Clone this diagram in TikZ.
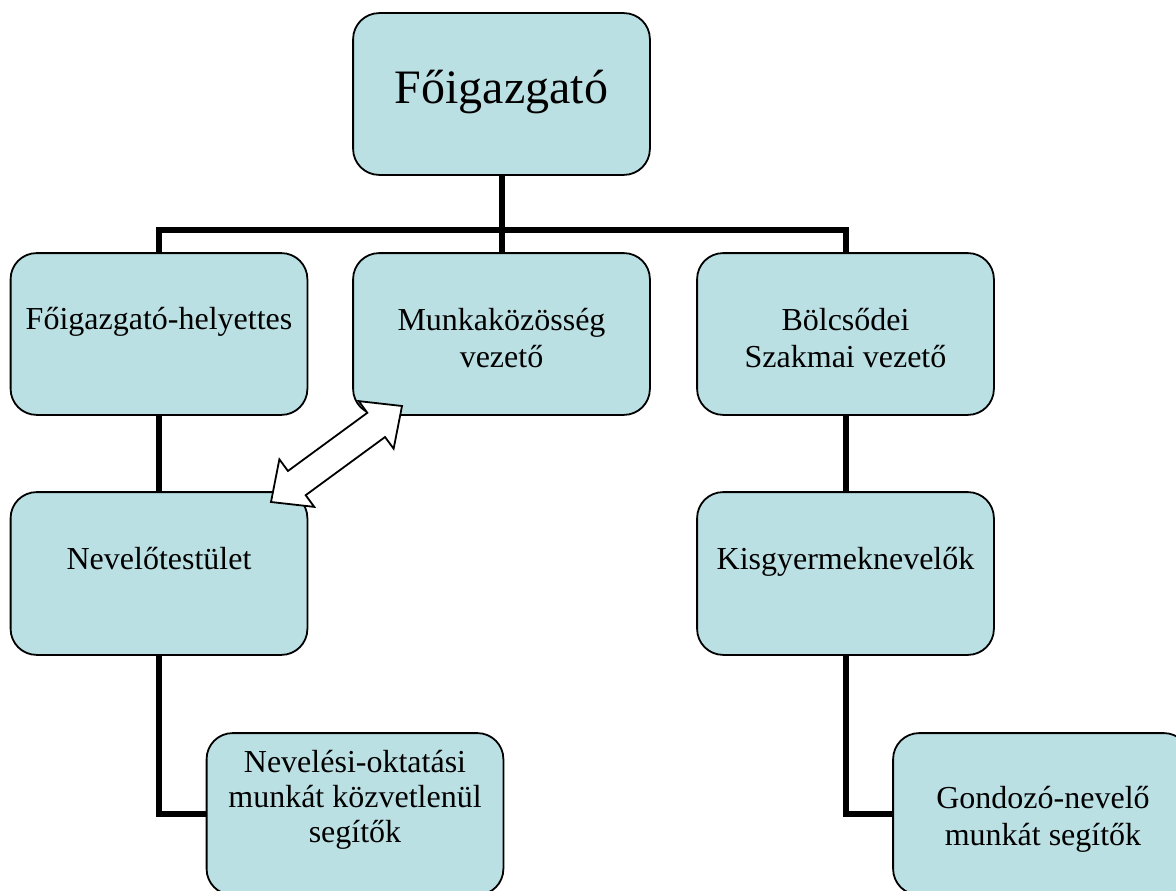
\documentclass[tikz,border=0pt]{standalone}
\usepackage{fontspec}
\setmainfont{Liberation Serif}
\usetikzlibrary{calc}
\definecolor{boxfill}{RGB}{187,224,227}
\begin{document}
\begin{tikzpicture}[x=1pt,y=-1pt,
  orgbox/.style={draw=black, line width=1.8pt, fill=boxfill, rounded corners=26pt,
    minimum width=295pt, minimum height=160pt, inner sep=0pt},
  conn/.style={draw=black, line width=6pt},
  lbl/.style={anchor=base, align=center, inner sep=0pt, font=\fontsize{32}{36.5}\selectfont},
  biglbl/.style={anchor=base, align=center, inner sep=0pt, font=\fontsize{48}{55}\selectfont},
  blockarrow/.style={draw=black, line width=1.8pt, fill=white, line join=miter}]
\useasboundingbox (0,0) rectangle (1176,891);
\fill[white] (0,0) rectangle (1176,891);

% boxes (geometry only, drawn after connectors)
\path (501.5,94) node[orgbox, draw=none, fill=none] (fo) {}
      (159,334) node[orgbox, draw=none, fill=none] (fh) {}
      (501.5,334) node[orgbox, draw=none, fill=none] (mk) {}
      (845.5,334) node[orgbox, draw=none, fill=none] (bv) {}
      (159,573.5) node[orgbox, draw=none, fill=none, minimum height=161pt] (nt) {}
      (845.5,573.5) node[orgbox, draw=none, fill=none, minimum height=161pt] (kn) {}
      (355,814) node[orgbox, draw=none, fill=none] (no) {}
      (1041.5,814) node[orgbox, draw=none, fill=none] (gn) {};

% connectors
\coordinate (bar) at (501.5,230);
\draw[conn] (fo.south) -- (bar);
\draw[conn] (fh.north) |- (bar) -| (bv.north);
\draw[conn] (bar) -- (mk.north);
\draw[conn] (fh.south) -- (nt.north);
\draw[conn] (bv.south) -- (kn.north);
\draw[conn] (nt.south) |- (no.west);
\draw[conn] (kn.south) |- (gn.west);

% visible boxes
\foreach \b in {fo,fh,mk,bv,nt,kn,no,gn}{
  \draw[orgbox] (\b.south west) rectangle (\b.north east);
}

% labels (anchor=base is the baseline of the last line)
\node[biglbl] (tfo) at (501.5,103) {Főigazgató};
\node[lbl] (tfh) at (159,329) {Főigazgató-helyettes};
\node[lbl] (tmk) at (501.5,367) {Munkaközösség\\vezető};
\node[lbl] (tbv) at (845.5,367) {Bölcsődei\\Szakmai vezető};
\node[lbl] (tnt) at (159,569) {Nevelőtestület};
\node[lbl] (tkn) at (845.5,569) {Kisgyermeknevelők};
\node[lbl, font=\fontsize{32}{35}\selectfont] (tno) at (355,842) {Nevelési-oktatási\\munkát közvetlenül\\segítők};
\node[lbl] (tgn) at (1043,845) {Gondozó-nevelő\\munkát segítők};

% double block arrow
\coordinate (T1) at (402,406);
\coordinate (T2) at (271,502);
\coordinate (B1) at ($(T1)!32pt!(T2)$);
\coordinate (B2) at ($(T2)!32pt!(T1)$);
\draw[blockarrow] (T1)
  -- ($(B1)!29.5pt!90:(T1)$) -- ($(B1)!15pt!90:(T1)$)
  -- ($(B2)!15pt!-90:(T2)$) -- ($(B2)!29.5pt!-90:(T2)$)
  -- (T2)
  -- ($(B2)!29.5pt!90:(T2)$) -- ($(B2)!15pt!90:(T2)$)
  -- ($(B1)!15pt!-90:(T1)$) -- ($(B1)!29.5pt!-90:(T1)$)
  -- cycle;
\end{tikzpicture}
\end{document}
